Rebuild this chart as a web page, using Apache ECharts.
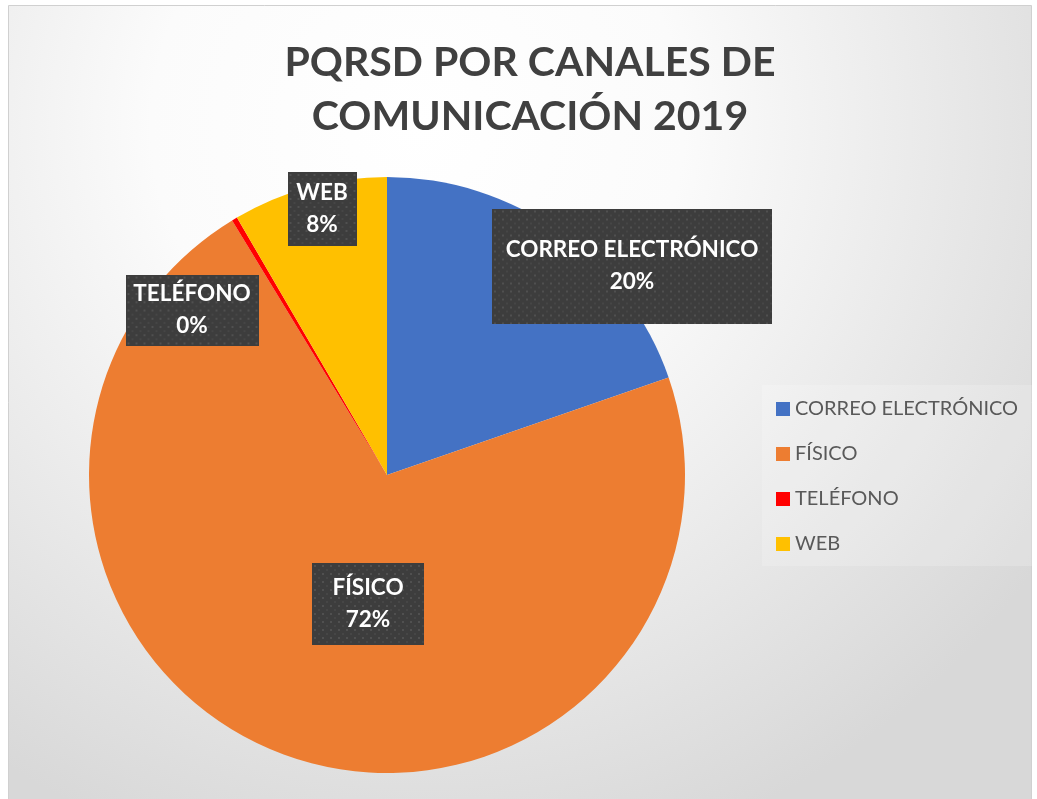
<!DOCTYPE html>
<html>
<head>
<meta charset="utf-8">
<script src="https://cdn.jsdelivr.net/npm/echarts@6/dist/echarts.min.js"></script>
<style>
    html, body { margin: 0; padding: 0; background: #fff; }
    #chart { width: 1037px; height: 799px; }
</style>
</head>
<body>
<div id="chart"></div>
<script>
//数据
const titleText = 'PQRSD POR CANALES DE\nCOMUNICACIÓN 2019';
const categories = ['CORREO ELECTRÓNICO', 'FÍSICO', 'TELÉFONO', 'WEB'];
const values = [197, 716, 3, 84];
const colors = ['#4472C4', '#ED7D31', '#FF0000', '#FFC000'];

//标签框位置 (中心 x, y, 宽, 高)
const labelBoxes = [
    [632, 266, 280, 115],
    [368, 604, 112, 82],
    [192, 310, 133, 69],
    [322, 209, 69, 74]
];

const fontFamily = 'Lato, "Open Sans", sans-serif';

//标签背景纹理
function makeTile(w, h) {
    let c = document.createElement('canvas');
    c.width = w;
    c.height = h;
    let ctx = c.getContext('2d');
    ctx.fillStyle = '#3d3d3d';
    ctx.fillRect(0, 0, w, h);
    for (let y = 2; y < h; y += 8) {
        for (let x = 2; x < w; x += 8) {
            ctx.fillStyle = '#505050';
            ctx.fillRect(x, y, 2, 2);
            ctx.fillStyle = '#464646';
            ctx.fillRect(x + 4, y + 4, 2, 2);
        }
    }
    return c;
}

let chart = echarts.init(document.getElementById('chart'));

let pieData = categories.map(function (name, i) {
    let box = labelBoxes[i];
    let padV = (box[3] - 64) / 2;
    return {
        name: name,
        value: values[i],
        itemStyle: { color: colors[i] },
        label: {
            width: box[2],
            padding: [Math.ceil(padV) + 4, 0, Math.max(Math.floor(padV) - 4, 0), 0],
            backgroundColor: { image: makeTile(box[2], box[3]) }
        }
    };
});

let option = {
    animation: false,
    graphic: [
        {
            type: 'rect',
            z: -10,
            shape: { x: 8.5, y: 5.5, width: 1023, height: 800 },
            style: {
                fill: new echarts.graphic.RadialGradient(0.4, 0.15, 0.95, [
                    { offset: 0, color: '#ffffff' },
                    { offset: 0.35, color: '#fbfbfb' },
                    { offset: 1, color: '#d8d8d8' }
                ]),
                stroke: '#d0d0d0',
                lineWidth: 1
            }
        },
        {
            type: 'rect',
            z: -9,
            shape: { x: 762, y: 385, width: 270, height: 181 },
            style: { fill: 'rgba(255,255,255,0.18)' }
        }
    ],
    title: {
        text: titleText,
        left: 525,
        top: 31,
        textAlign: 'center',
        textStyle: {
            fontFamily: fontFamily,
            fontSize: 41,
            fontWeight: 'bold',
            lineHeight: 54,
            color: '#404040'
        }
    },
    legend: {
        orient: 'vertical',
        left: 771,
        top: 392,
        icon: 'rect',
        itemWidth: 14,
        itemHeight: 14,
        itemGap: 21,
        data: categories,
        textStyle: {
            fontFamily: fontFamily,
            fontSize: 20,
            lineHeight: 24,
            color: '#595959'
        }
    },
    series: [
        {
            type: 'pie',
            center: [387, 475],
            radius: 298,
            startAngle: 90,
            clockwise: true,
            data: pieData,
            itemStyle: { borderWidth: 0 },
            emphasis: { disabled: true },
            labelLine: { show: false },
            label: {
                show: true,
                position: 'inside',
                formatter: function (p) {
                    return p.name + '\n' + Math.round(p.percent) + '%';
                },
                fontFamily: fontFamily,
                fontSize: 22.5,
                fontWeight: 'bold',
                lineHeight: 32,
                color: '#ffffff',
                align: 'center',
                shadowColor: 'rgba(0,0,0,0.45)',
                shadowBlur: 5,
                shadowOffsetX: 3,
                shadowOffsetY: 3
            },
            labelLayout: function (params) {
                let box = labelBoxes[params.dataIndex];
                return {
                    x: box[0],
                    y: box[1],
                    align: 'center',
                    verticalAlign: 'middle'
                };
            }
        }
    ]
};

chart.setOption(option);
</script>
</body>
</html>
